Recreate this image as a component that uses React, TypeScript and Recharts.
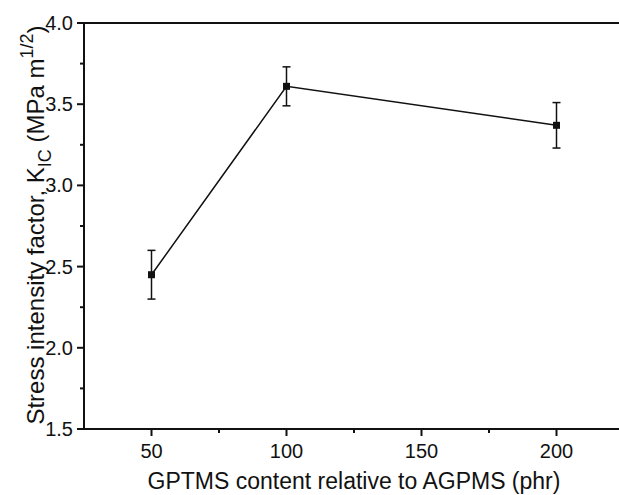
import { LineChart, Line, XAxis, YAxis, ErrorBar, ReferenceLine } from 'recharts'

const gptms = [50, 100, 200]
const kic = [2.45, 3.61, 3.37]
const errLow = [0.15, 0.12, 0.14]
const errHigh = [0.15, 0.12, 0.14]

const xTicks = [50, 75, 100, 125, 150, 175, 200, 225]
const xMajor = [50, 100, 150, 200]
const yTicks = [1.5, 1.75, 2.0, 2.25, 2.5, 2.75, 3.0, 3.25, 3.5, 3.75, 4.0]
const yMajor = [1.5, 2.0, 2.5, 3.0, 3.5, 4.0]

const data = gptms.map((x, i) => ({ x, y: kic[i], err: [errLow[i], errHigh[i]] }))

const FONT = '"Liberation Sans", Arial, sans-serif'
const INK = '#111'

function XTick({ x, y, payload }: any) {
  const major = xMajor.includes(payload.value)
  return (
    <g>
      <line x1={x} x2={x} y1={y} y2={y + (major ? 7 : 4)} stroke={INK} strokeWidth={2} />
      {major && (
        <text x={x} y={y + 29} textAnchor="middle" fontSize={20} fontFamily={FONT} fill={INK}>
          {payload.value}
        </text>
      )}
    </g>
  )
}

function YTick({ x, y, payload }: any) {
  const major = yMajor.includes(payload.value)
  return (
    <g>
      <line x1={x} x2={x - (major ? 7 : 4)} y1={y} y2={y} stroke={INK} strokeWidth={2} />
      {major && (
        <text x={x - 11} y={y + 7} textAnchor="end" fontSize={20} fontFamily={FONT} fill={INK}>
          {payload.value.toFixed(1)}
        </text>
      )}
    </g>
  )
}

function XTitle({ viewBox }: any) {
  const cx = viewBox.x + viewBox.width / 2
  return (
    <text x={cx} y={489} textAnchor="middle" fontSize={23} fontFamily={FONT} fill={INK}>
      GPTMS content relative to AGPMS (phr)
    </text>
  )
}

function YTitle() {
  return (
    <text
      transform="translate(44, 225) rotate(-90)"
      textAnchor="middle"
      fontSize={24}
      fontFamily={FONT}
      fill={INK}
    >
      Stress intensity factor, K
      <tspan fontSize={18} dy={7}>IC</tspan>
      <tspan dy={-7}> (MPa m</tspan>
      <tspan fontSize={18} dy={-11}>1/2</tspan>
      <tspan dy={11}>)</tspan>
    </text>
  )
}

function Square({ cx, cy }: any) {
  return <rect x={cx - 3.5} y={cy - 3.5} width={7} height={7} fill={INK} />
}

export default function App() {
  return (
    <div style={{ position: 'absolute', left: 0, top: 0, width: 619, height: 495, overflow: 'hidden', background: '#fff' }}>
      <LineChart width={630} height={495} data={data} margin={{ top: 23, right: 6, bottom: 0, left: 0 }}>
        <XAxis
          dataKey="x"
          type="number"
          domain={[25, 225]}
          ticks={xTicks}
          interval={0}
          tick={<XTick />}
          tickLine={false}
          tickSize={0}
          tickMargin={0}
          height={66}
          axisLine={{ stroke: INK, strokeWidth: 2 }}
          label={<XTitle />}
        />
        <YAxis
          type="number"
          domain={[1.5, 4.0]}
          ticks={yTicks}
          interval={0}
          tick={<YTick />}
          tickLine={false}
          tickSize={0}
          tickMargin={0}
          width={84}
          axisLine={{ stroke: INK, strokeWidth: 2 }}
          label={<YTitle />}
        />
        <ReferenceLine y={4.0} stroke={INK} strokeWidth={2} />
        <Line
          dataKey="y"
          stroke={INK}
          strokeWidth={1.5}
          dot={<Square />}
          activeDot={false}
          isAnimationActive={false}
        >
          <ErrorBar dataKey="err" direction="y" width={4} stroke={INK} strokeWidth={1.5} />
        </Line>
      </LineChart>
    </div>
  )
}
